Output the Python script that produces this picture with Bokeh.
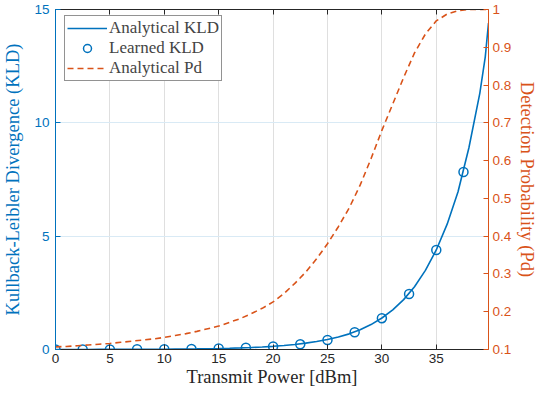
from bokeh.plotting import figure
from bokeh.models import (Range1d, LinearAxis, FixedTicker, Legend, LegendItem,
                          CustomJSTickFormatter, CustomLabelingPolicy)
from bokeh.embed import file_html
from bokeh.resources import INLINE

# ---- data ----
power_line = [0, 1, 2, 3, 4, 5, 6, 7, 8, 9, 10, 11, 12, 13, 14, 15, 16, 17, 18, 19,
              20, 21, 22, 23, 24, 25, 26, 27, 28, 29, 30, 31, 32, 33, 34, 35, 36, 37,
              38, 39, 39.5, 39.8]
kld_analytical = [0.0014, 0.0017, 0.0022, 0.0028, 0.0035, 0.0044, 0.0055, 0.0070, 0.0088,
                  0.011, 0.014, 0.0175, 0.022, 0.028, 0.035, 0.044, 0.055, 0.070, 0.088,
                  0.11, 0.14, 0.175, 0.22, 0.28, 0.35, 0.44, 0.55, 0.69, 0.87, 1.10, 1.39,
                  1.75, 2.20, 2.77, 3.49, 4.39, 5.53, 6.96, 8.9, 11.3, 12.9, 14.4]
pd_analytical = [0.107, 0.108, 0.110, 0.112, 0.114, 0.116, 0.119, 0.122, 0.125, 0.128,
                 0.132, 0.137, 0.142, 0.148, 0.155, 0.162, 0.172, 0.182, 0.195, 0.209,
                 0.226, 0.248, 0.275, 0.305, 0.34, 0.38, 0.425, 0.475, 0.535, 0.605,
                 0.68, 0.75, 0.82, 0.885, 0.935, 0.97, 0.988, 0.997, 1.0, 1.0, 1.0, 1.0]
power_learned = [0, 2.5, 5, 7.5, 10, 12.5, 15, 17.5, 20, 22.5, 25, 27.5, 30, 32.5, 35, 37.5]
kld_learned = [0.002, 0.003, 0.004, 0.008, 0.014, 0.024, 0.045, 0.078, 0.13, 0.23, 0.42,
               0.76, 1.38, 2.45, 4.39, 7.83]
x_ticks = [0, 5, 10, 15, 20, 25, 30, 35]
kld_ticks = [0, 5, 10, 15]
pd_ticks = [0.1, 0.2, 0.3, 0.4, 0.5, 0.6, 0.7, 0.8, 0.9, 1.0]

BLUE = "#0072BD"
ORANGE = "#D95319"
DARK = "#262626"
TICK_FONT = "Liberation Sans"
LABEL_FONT = "Liberation Serif"

p = figure(width=540, height=389, x_range=Range1d(0, 39.8), y_range=Range1d(0, 15),
           output_backend="svg", toolbar_location=None,
           min_border_left=55, min_border_right=48, min_border_top=9, min_border_bottom=40)
p.extra_y_ranges = {"pd": Range1d(0.1, 1.0)}
p.outline_line_color = None
p.background_fill_color = "white"
p.border_fill_color = "white"

# grid
p.xgrid.grid_line_color = "#DFDFDF"
p.ygrid.grid_line_color = "#D9EAF5"
p.xgrid.ticker = FixedTicker(ticks=x_ticks)
p.ygrid.ticker = FixedTicker(ticks=kld_ticks)

def style_axis(ax, color, ticks):
    ax.ticker = FixedTicker(ticks=ticks)
    ax.axis_line_color = color
    ax.major_tick_line_color = color
    ax.major_label_text_color = color
    ax.axis_label_text_color = color
    ax.major_tick_in = 5
    ax.major_tick_out = 0
    ax.minor_tick_line_color = None
    ax.major_label_text_font = TICK_FONT
    ax.major_label_text_font_size = "13.5px"
    ax.axis_label_text_font = LABEL_FONT
    ax.axis_label_text_font_size = "18.5px"
    ax.axis_label_text_font_style = "normal"

# bottom
xa = p.xaxis[0]
style_axis(xa, DARK, x_ticks)
xa.axis_label = "Transmit Power [dBm]"
xa.major_label_standoff = 4
xa.axis_label_standoff = 1

# left
ya = p.yaxis[0]
style_axis(ya, BLUE, kld_ticks)
ya.axis_label = "Kullback-Leibler Divergence (KLD)"
ya.major_label_standoff = 6
ya.axis_label_standoff = 8

# right
ra = LinearAxis(y_range_name="pd")
style_axis(ra, ORANGE, pd_ticks)
ra.axis_label = "Detection Probability (Pd)"
ra.major_label_standoff = 4
ra.axis_label_standoff = 3
ra.formatter = CustomJSTickFormatter(code="return (Math.round(tick*10)/10).toString();")
p.add_layout(ra, "right")

# top (box edge with inward ticks, no labels)
ta = LinearAxis()
style_axis(ta, DARK, x_ticks)
ta.major_label_text_font_size = "1px"
ta.major_label_standoff = 0
ta.major_label_policy = CustomLabelingPolicy(code="return;")
p.add_layout(ta, "above")

# glyphs
r_line = p.line(power_line, kld_analytical, line_color=BLUE, line_width=1.6)
r_pts = p.scatter(power_learned, kld_learned, marker="circle", size=9, fill_color=None,
                  line_color=BLUE, line_width=1.5)
r_pd = p.line(power_line, pd_analytical, y_range_name="pd", line_color=ORANGE,
              line_width=1.6, line_dash="6 4")

legend = Legend(items=[LegendItem(label="Analytical KLD", renderers=[r_line]),
                       LegendItem(label="Learned KLD", renderers=[r_pts]),
                       LegendItem(label="Analytical Pd", renderers=[r_pd])],
                location=(9, 268))
legend.label_text_font = LABEL_FONT
legend.label_text_font_size = "17px"
legend.glyph_width = 40
legend.glyph_height = 20
legend.label_height = 20
legend.label_standoff = 2
legend.spacing = 0
legend.padding = 2
legend.margin = 0
legend.border_line_color = DARK
legend.border_line_width = 1
legend.background_fill_color = "white"
legend.background_fill_alpha = 1
p.add_layout(legend, "center")

open("out.html", "w").write(file_html(p, INLINE))
